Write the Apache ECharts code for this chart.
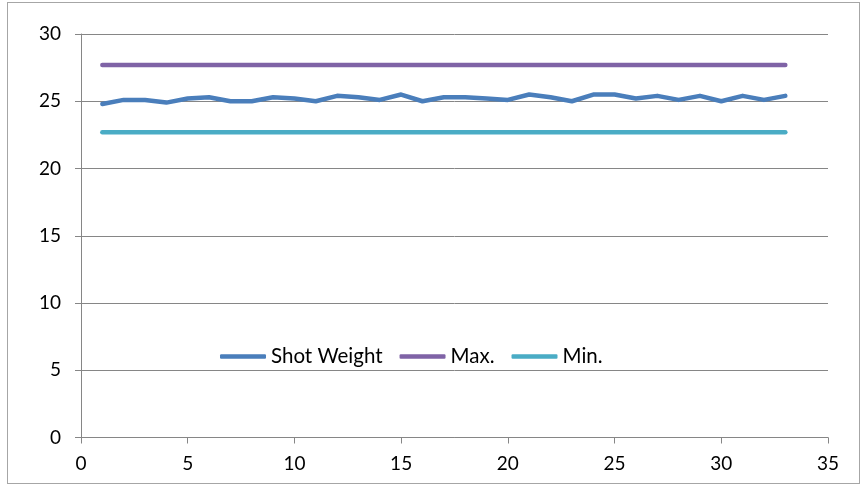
<!DOCTYPE html>
<html>
<head>
<meta charset="utf-8">
<script src="https://cdn.jsdelivr.net/npm/echarts@6/dist/echarts.min.js"></script>
<style>
  html, body { margin: 0; padding: 0; background: #fff; }
  #frame { position: absolute; left: 7px; top: 2px; width: 853px; height: 482px; border: 1px solid #a6a6a6; box-sizing: border-box; }
  #chart { position: absolute; left: 0; top: 0; width: 862px; height: 487px; }
</style>
</head>
<body>
<div id="frame"></div>
<div id="chart"></div>
<script>
// data
const xs = [1, 2, 3, 4, 5, 6, 7, 8, 9, 10, 11, 12, 13, 14, 15, 16, 17, 18, 19, 20, 21, 22, 23, 24, 25, 26, 27, 28, 29, 30, 31, 32, 33];
const shotWeight = [24.8, 25.1, 25.1, 24.9, 25.2, 25.3, 25.0, 25.0, 25.3, 25.2, 25.0, 25.4, 25.3, 25.1, 25.5, 25.0, 25.3, 25.3, 25.2, 25.1, 25.5, 25.3, 25.0, 25.5, 25.5, 25.2, 25.4, 25.1, 25.4, 25.0, 25.4, 25.1, 25.4];
const maxLimit = 27.7;
const minLimit = 22.7;
const seriesNames = ['Shot Weight', 'Max.', 'Min.'];

const chart = echarts.init(document.getElementById('chart'));
const font = 'Lato, "Liberation Sans", sans-serif';

const mkLine = (name, data, color) => ({
  name: name,
  type: 'line',
  data: data,
  showSymbol: false,
  symbol: 'none',
  lineStyle: { color: color, width: 4.5, cap: 'round', join: 'round' },
  itemStyle: { color: color },
  emphasis: { disabled: true }
});

chart.setOption({
  animation: false,
  grid: { left: 81, right: 34, top: 34, bottom: 49.5 },
  legend: {
    left: 215,
    top: 341,
    icon: 'roundRect',
    itemWidth: 46,
    itemHeight: 4.5,
    itemGap: 17,
    data: seriesNames,
    textStyle: { fontFamily: font, fontSize: 20.5, color: '#000' }
  },
  xAxis: {
    type: 'value',
    min: 0,
    max: 35,
    interval: 5,
    axisLine: { lineStyle: { color: '#868686', width: 1 } },
    axisTick: { show: true, length: 6, lineStyle: { color: '#868686' } },
    axisLabel: { fontFamily: font, fontSize: 19, color: '#000', margin: 17 },
    splitLine: { show: false }
  },
  yAxis: {
    type: 'value',
    min: 0,
    max: 30,
    interval: 5,
    axisLine: { show: true, lineStyle: { color: '#868686', width: 1 } },
    axisTick: { show: true, length: 6, lineStyle: { color: '#868686' } },
    axisLabel: { fontFamily: font, fontSize: 19, color: '#000', margin: 20 },
    splitLine: { show: true, lineStyle: { color: '#868686', width: 1 } }
  },
  series: [
    mkLine(seriesNames[0], xs.map((x, i) => [x, shotWeight[i]]), '#4a7ebb'),
    mkLine(seriesNames[1], xs.map(x => [x, maxLimit]), '#7f63a6'),
    mkLine(seriesNames[2], xs.map(x => [x, minLimit]), '#4aacc5')
  ]
});
</script>
</body>
</html>
